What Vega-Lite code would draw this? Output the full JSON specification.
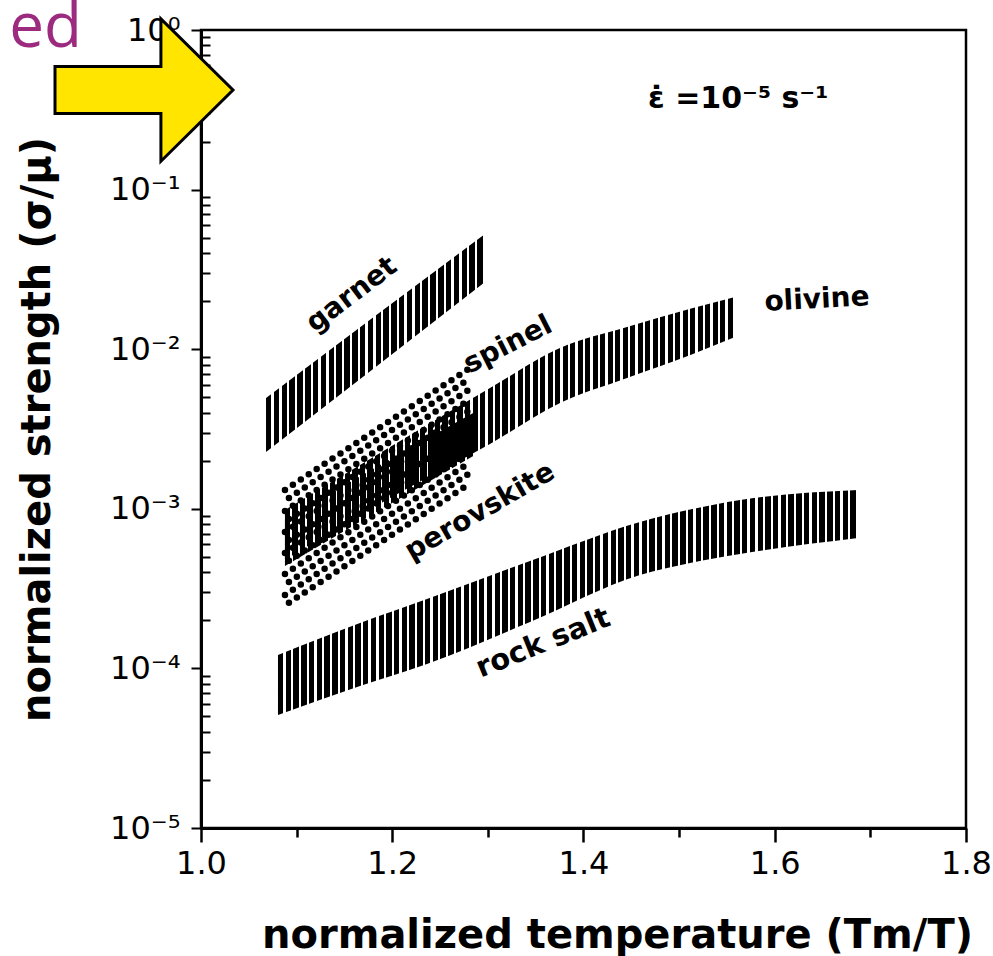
{
"$schema": "https://vega.github.io/schema/vega-lite/v6.json",
"width": 765,
"height": 798,
"autosize": {"type": "none"},
"padding": {"left": 201, "top": 30, "right": 27, "bottom": 128},
"background": "white",
"config": {"view": {"stroke": "black", "strokeWidth": 2.5}, "font": "DejaVu Sans"},
"datasets": {
"bands": [
{"m": "garnet", "x": 1.068, "y": 0.004945, "y2": 0.002269},
{"m": "garnet", "x": 1.182, "y": 0.016144, "y2": 0.00769},
{"m": "garnet", "x": 1.297, "y": 0.0527, "y2": 0.02637},
{"m": "olivine", "x": 1.0878, "y": 0.000983, "y2": 0.0004777},
{"m": "olivine", "x": 1.1977, "y": 0.002439, "y2": 0.001169},
{"m": "olivine", "x": 1.3022, "y": 0.005713, "y2": 0.002547},
{"m": "olivine", "x": 1.3754, "y": 0.010174, "y2": 0.004601},
{"m": "olivine", "x": 1.4455, "y": 0.01377, "y2": 0.006599},
{"m": "olivine", "x": 1.5145, "y": 0.01812, "y2": 0.00933},
{"m": "olivine", "x": 1.5585, "y": 0.02124, "y2": 0.01192},
{"m": "perovskite", "x": 1.0878, "y": 0.0008506, "y2": 0.0004382},
{"m": "perovskite", "x": 1.1872, "y": 0.001881, "y2": 0.000983},
{"m": "perovskite", "x": 1.2865, "y": 0.004041, "y2": 0.002173},
{"m": "rock salt", "x": 1.0805, "y": 0.0001213, "y2": 0.00005105},
{"m": "rock salt", "x": 1.1663, "y": 0.0001925, "y2": 0.00007757},
{"m": "rock salt", "x": 1.2363, "y": 0.0002721, "y2": 0.0001066},
{"m": "rock salt", "x": 1.3441, "y": 0.0004709, "y2": 0.0001953},
{"m": "rock salt", "x": 1.4591, "y": 0.0008267, "y2": 0.0003847},
{"m": "rock salt", "x": 1.5114, "y": 0.0009886, "y2": 0.0004575},
{"m": "rock salt", "x": 1.5637, "y": 0.001135, "y2": 0.000521},
{"m": "rock salt", "x": 1.6871, "y": 0.001312, "y2": 0.0006561}
],
"dots": [
{"row": 0, "p": 0, "x": 1.0878, "y": 0.0013115}, {"row": 0, "p": 0, "x": 1.2813, "y": 0.007633},
{"row": 1, "p": 1, "x": 1.0878, "y": 0.001127}, {"row": 1, "p": 1, "x": 1.2813, "y": 0.006561},
{"row": 2, "p": 0, "x": 1.0878, "y": 0.0009687}, {"row": 2, "p": 0, "x": 1.2813, "y": 0.005639},
{"row": 3, "p": 1, "x": 1.0878, "y": 0.0008326}, {"row": 3, "p": 1, "x": 1.2813, "y": 0.004847},
{"row": 4, "p": 0, "x": 1.0878, "y": 0.0007155}, {"row": 4, "p": 0, "x": 1.2813, "y": 0.004165},
{"row": 5, "p": 1, "x": 1.0878, "y": 0.0006149}, {"row": 5, "p": 1, "x": 1.2813, "y": 0.00358},
{"row": 6, "p": 0, "x": 1.0878, "y": 0.0005286}, {"row": 6, "p": 0, "x": 1.2813, "y": 0.003077},
{"row": 7, "p": 1, "x": 1.0878, "y": 0.0004543}, {"row": 7, "p": 1, "x": 1.2813, "y": 0.002645},
{"row": 8, "p": 0, "x": 1.0878, "y": 0.0003904}, {"row": 8, "p": 0, "x": 1.2813, "y": 0.002273},
{"row": 9, "p": 1, "x": 1.0878, "y": 0.0003355}, {"row": 9, "p": 1, "x": 1.2813, "y": 0.001953},
{"row": 10, "p": 0, "x": 1.0878, "y": 0.0002884}, {"row": 10, "p": 0, "x": 1.2813, "y": 0.001679},
{"row": 11, "p": 1, "x": 1.0878, "y": 0.0002479}, {"row": 11, "p": 1, "x": 1.2813, "y": 0.001443}
]
},
"encoding": {
"x": {"field": "x", "type": "quantitative",
"scale": {"domain": [1, 1.8], "nice": false, "zero": false},
"axis": {"title": "normalized temperature (Tm/T)", "values": [1, 1.1, 1.2, 1.3, 1.4, 1.5, 1.6, 1.7, 1.8],
"labelExpr": "abs(datum.value*5-round(datum.value*5))<0.01 ? format(datum.value, '.1f') : ''",
"tickSize": {"condition": {"test": "abs(datum.value*5-round(datum.value*5))<0.01", "value": 14}, "value": 9},
"tickWidth": 2.5, "tickColor": "black", "domainColor": "black", "domainWidth": 3,
"labelFont": "DejaVu Sans", "labelFontSize": 32, "labelColor": "black", "labelPadding": 6,
"labelOverlap": false, "labelFlush": false, "grid": false,
"titleFont": "DejaVu Sans", "titleFontSize": 40, "titleFontWeight": "bold", "titleColor": "black",
"titleX": 416, "titleY": 119, "titleBaseline": "alphabetic"}},
"y": {"field": "y", "type": "quantitative",
"scale": {"type": "log", "domain": [0.00001, 1], "nice": false},
"axis": {"title": "normalized strength (σ/μ)",
"labelExpr": "abs(log(datum.value)/LN10-round(log(datum.value)/LN10))<0.001 ? (datum.value>0.5 ? '10⁰' : datum.value>0.05 ? '10⁻¹' : datum.value>0.005 ? '10⁻²' : datum.value>0.0005 ? '10⁻³' : datum.value>0.00005 ? '10⁻⁴' : '10⁻⁵') : ''",
"tickSize": {"condition": {"test": "abs(log(datum.value)/LN10-round(log(datum.value)/LN10))<0.001", "value": 10}, "value": -9},
"tickWidth": 2, "tickColor": "black", "domainColor": "black", "domainWidth": 3,
"labelFont": "DejaVu Sans", "labelFontSize": 32, "labelColor": "black", "labelPadding": 11,
"labelOverlap": false, "labelFlush": false, "grid": false,
"titleFont": "DejaVu Sans", "titleFontSize": 40, "titleFontWeight": "bold", "titleColor": "black",
"titleX": -164, "titleY": 399, "titleBaseline": "middle"}}
},
"layer": [
{"data": {"name": "dots"}, "transform": [{"filter": "datum.p == 0"}],
"mark": {"type": "line", "stroke": "black", "strokeWidth": 6.5, "strokeCap": "round", "strokeDash": [0, 9.5]},
"encoding": {"detail": {"field": "row"}}},
{"data": {"name": "dots"}, "transform": [{"filter": "datum.p == 1"}],
"mark": {"type": "line", "stroke": "black", "strokeWidth": 6.5, "strokeCap": "round", "strokeDash": [0, 9.5], "strokeDashOffset": 4.75},
"encoding": {"detail": {"field": "row"}}},
{"data": {"name": "bands"}, "transform": [{"filter": "datum.m == 'perovskite'"}],
"mark": {"type": "area", "interpolate": "monotone", "fill": {"gradient": "linear", "x1": 0, "y1": 0, "x2": 1, "y2": 0, "stops": [
{"offset":0,"color":"#000"},{"offset":0.028,"color":"#000"},{"offset":0.028,"color":"transparent"},{"offset":0.04,"color":"transparent"},
{"offset":0.04,"color":"#000"},{"offset":0.068,"color":"#000"},{"offset":0.068,"color":"transparent"},{"offset":0.08,"color":"transparent"},
{"offset":0.08,"color":"#000"},{"offset":0.108,"color":"#000"},{"offset":0.108,"color":"transparent"},{"offset":0.12,"color":"transparent"},
{"offset":0.12,"color":"#000"},{"offset":0.148,"color":"#000"},{"offset":0.148,"color":"transparent"},{"offset":0.16,"color":"transparent"},
{"offset":0.16,"color":"#000"},{"offset":0.188,"color":"#000"},{"offset":0.188,"color":"transparent"},{"offset":0.2,"color":"transparent"},
{"offset":0.2,"color":"#000"},{"offset":0.228,"color":"#000"},{"offset":0.228,"color":"transparent"},{"offset":0.24,"color":"transparent"},
{"offset":0.24,"color":"#000"},{"offset":0.268,"color":"#000"},{"offset":0.268,"color":"transparent"},{"offset":0.28,"color":"transparent"},
{"offset":0.28,"color":"#000"},{"offset":0.308,"color":"#000"},{"offset":0.308,"color":"transparent"},{"offset":0.32,"color":"transparent"},
{"offset":0.32,"color":"#000"},{"offset":0.348,"color":"#000"},{"offset":0.348,"color":"transparent"},{"offset":0.36,"color":"transparent"},
{"offset":0.36,"color":"#000"},{"offset":0.388,"color":"#000"},{"offset":0.388,"color":"transparent"},{"offset":0.4,"color":"transparent"},
{"offset":0.4,"color":"#000"},{"offset":0.428,"color":"#000"},{"offset":0.428,"color":"transparent"},{"offset":0.44,"color":"transparent"},
{"offset":0.44,"color":"#000"},{"offset":0.468,"color":"#000"},{"offset":0.468,"color":"transparent"},{"offset":0.48,"color":"transparent"},
{"offset":0.48,"color":"#000"},{"offset":0.508,"color":"#000"},{"offset":0.508,"color":"transparent"},{"offset":0.52,"color":"transparent"},
{"offset":0.52,"color":"#000"},{"offset":0.548,"color":"#000"},{"offset":0.548,"color":"transparent"},{"offset":0.56,"color":"transparent"},
{"offset":0.56,"color":"#000"},{"offset":0.588,"color":"#000"},{"offset":0.588,"color":"transparent"},{"offset":0.6,"color":"transparent"},
{"offset":0.6,"color":"#000"},{"offset":0.628,"color":"#000"},{"offset":0.628,"color":"transparent"},{"offset":0.64,"color":"transparent"},
{"offset":0.64,"color":"#000"},{"offset":0.668,"color":"#000"},{"offset":0.668,"color":"transparent"},{"offset":0.68,"color":"transparent"},
{"offset":0.68,"color":"#000"},{"offset":0.708,"color":"#000"},{"offset":0.708,"color":"transparent"},{"offset":0.72,"color":"transparent"},
{"offset":0.72,"color":"#000"},{"offset":0.748,"color":"#000"},{"offset":0.748,"color":"transparent"},{"offset":0.76,"color":"transparent"},
{"offset":0.76,"color":"#000"},{"offset":0.788,"color":"#000"},{"offset":0.788,"color":"transparent"},{"offset":0.8,"color":"transparent"},
{"offset":0.8,"color":"#000"},{"offset":0.828,"color":"#000"},{"offset":0.828,"color":"transparent"},{"offset":0.84,"color":"transparent"},
{"offset":0.84,"color":"#000"},{"offset":0.868,"color":"#000"},{"offset":0.868,"color":"transparent"},{"offset":0.88,"color":"transparent"},
{"offset":0.88,"color":"#000"},{"offset":0.908,"color":"#000"},{"offset":0.908,"color":"transparent"},{"offset":0.92,"color":"transparent"},
{"offset":0.92,"color":"#000"},{"offset":0.948,"color":"#000"},{"offset":0.948,"color":"transparent"},{"offset":0.96,"color":"transparent"},
{"offset":0.96,"color":"#000"},{"offset":0.988,"color":"#000"},{"offset":0.988,"color":"transparent"},{"offset":1,"color":"transparent"}
]}},
"encoding": {"y2": {"field": "y2"}}},
{"data": {"name": "bands"}, "transform": [{"filter": "datum.m == 'olivine'"}],
"mark": {"type": "area", "interpolate": "monotone", "fill": {"gradient": "linear", "x1": 0, "y1": 0, "x2": 1, "y2": 0, "stops": [
{"offset":0,"color":"#000"},{"offset":0.0117,"color":"#000"},{"offset":0.0117,"color":"transparent"},{"offset":0.0167,"color":"transparent"},
{"offset":0.0167,"color":"#000"},{"offset":0.0283,"color":"#000"},{"offset":0.0283,"color":"transparent"},{"offset":0.0333,"color":"transparent"},
{"offset":0.0333,"color":"#000"},{"offset":0.045,"color":"#000"},{"offset":0.045,"color":"transparent"},{"offset":0.05,"color":"transparent"},
{"offset":0.05,"color":"#000"},{"offset":0.0617,"color":"#000"},{"offset":0.0617,"color":"transparent"},{"offset":0.0667,"color":"transparent"},
{"offset":0.0667,"color":"#000"},{"offset":0.0783,"color":"#000"},{"offset":0.0783,"color":"transparent"},{"offset":0.0833,"color":"transparent"},
{"offset":0.0833,"color":"#000"},{"offset":0.095,"color":"#000"},{"offset":0.095,"color":"transparent"},{"offset":0.1,"color":"transparent"},
{"offset":0.1,"color":"#000"},{"offset":0.1117,"color":"#000"},{"offset":0.1117,"color":"transparent"},{"offset":0.1167,"color":"transparent"},
{"offset":0.1167,"color":"#000"},{"offset":0.1283,"color":"#000"},{"offset":0.1283,"color":"transparent"},{"offset":0.1333,"color":"transparent"},
{"offset":0.1333,"color":"#000"},{"offset":0.145,"color":"#000"},{"offset":0.145,"color":"transparent"},{"offset":0.15,"color":"transparent"},
{"offset":0.15,"color":"#000"},{"offset":0.1617,"color":"#000"},{"offset":0.1617,"color":"transparent"},{"offset":0.1667,"color":"transparent"},
{"offset":0.1667,"color":"#000"},{"offset":0.1783,"color":"#000"},{"offset":0.1783,"color":"transparent"},{"offset":0.1833,"color":"transparent"},
{"offset":0.1833,"color":"#000"},{"offset":0.195,"color":"#000"},{"offset":0.195,"color":"transparent"},{"offset":0.2,"color":"transparent"},
{"offset":0.2,"color":"#000"},{"offset":0.2117,"color":"#000"},{"offset":0.2117,"color":"transparent"},{"offset":0.2167,"color":"transparent"},
{"offset":0.2167,"color":"#000"},{"offset":0.2283,"color":"#000"},{"offset":0.2283,"color":"transparent"},{"offset":0.2333,"color":"transparent"},
{"offset":0.2333,"color":"#000"},{"offset":0.245,"color":"#000"},{"offset":0.245,"color":"transparent"},{"offset":0.25,"color":"transparent"},
{"offset":0.25,"color":"#000"},{"offset":0.2617,"color":"#000"},{"offset":0.2617,"color":"transparent"},{"offset":0.2667,"color":"transparent"},
{"offset":0.2667,"color":"#000"},{"offset":0.2783,"color":"#000"},{"offset":0.2783,"color":"transparent"},{"offset":0.2833,"color":"transparent"},
{"offset":0.2833,"color":"#000"},{"offset":0.295,"color":"#000"},{"offset":0.295,"color":"transparent"},{"offset":0.3,"color":"transparent"},
{"offset":0.3,"color":"#000"},{"offset":0.3117,"color":"#000"},{"offset":0.3117,"color":"transparent"},{"offset":0.3167,"color":"transparent"},
{"offset":0.3167,"color":"#000"},{"offset":0.3283,"color":"#000"},{"offset":0.3283,"color":"transparent"},{"offset":0.3333,"color":"transparent"},
{"offset":0.3333,"color":"#000"},{"offset":0.345,"color":"#000"},{"offset":0.345,"color":"transparent"},{"offset":0.35,"color":"transparent"},
{"offset":0.35,"color":"#000"},{"offset":0.3617,"color":"#000"},{"offset":0.3617,"color":"transparent"},{"offset":0.3667,"color":"transparent"},
{"offset":0.3667,"color":"#000"},{"offset":0.3783,"color":"#000"},{"offset":0.3783,"color":"transparent"},{"offset":0.3833,"color":"transparent"},
{"offset":0.3833,"color":"#000"},{"offset":0.395,"color":"#000"},{"offset":0.395,"color":"transparent"},{"offset":0.4,"color":"transparent"},
{"offset":0.4,"color":"#000"},{"offset":0.4117,"color":"#000"},{"offset":0.4117,"color":"transparent"},{"offset":0.4167,"color":"transparent"},
{"offset":0.4167,"color":"#000"},{"offset":0.4283,"color":"#000"},{"offset":0.4283,"color":"transparent"},{"offset":0.4333,"color":"transparent"},
{"offset":0.4333,"color":"#000"},{"offset":0.445,"color":"#000"},{"offset":0.445,"color":"transparent"},{"offset":0.45,"color":"transparent"},
{"offset":0.45,"color":"#000"},{"offset":0.4617,"color":"#000"},{"offset":0.4617,"color":"transparent"},{"offset":0.4667,"color":"transparent"},
{"offset":0.4667,"color":"#000"},{"offset":0.4783,"color":"#000"},{"offset":0.4783,"color":"transparent"},{"offset":0.4833,"color":"transparent"},
{"offset":0.4833,"color":"#000"},{"offset":0.495,"color":"#000"},{"offset":0.495,"color":"transparent"},{"offset":0.5,"color":"transparent"},
{"offset":0.5,"color":"#000"},{"offset":0.5117,"color":"#000"},{"offset":0.5117,"color":"transparent"},{"offset":0.5167,"color":"transparent"},
{"offset":0.5167,"color":"#000"},{"offset":0.5283,"color":"#000"},{"offset":0.5283,"color":"transparent"},{"offset":0.5333,"color":"transparent"},
{"offset":0.5333,"color":"#000"},{"offset":0.545,"color":"#000"},{"offset":0.545,"color":"transparent"},{"offset":0.55,"color":"transparent"},
{"offset":0.55,"color":"#000"},{"offset":0.5617,"color":"#000"},{"offset":0.5617,"color":"transparent"},{"offset":0.5667,"color":"transparent"},
{"offset":0.5667,"color":"#000"},{"offset":0.5783,"color":"#000"},{"offset":0.5783,"color":"transparent"},{"offset":0.5833,"color":"transparent"},
{"offset":0.5833,"color":"#000"},{"offset":0.595,"color":"#000"},{"offset":0.595,"color":"transparent"},{"offset":0.6,"color":"transparent"},
{"offset":0.6,"color":"#000"},{"offset":0.6117,"color":"#000"},{"offset":0.6117,"color":"transparent"},{"offset":0.6167,"color":"transparent"},
{"offset":0.6167,"color":"#000"},{"offset":0.6283,"color":"#000"},{"offset":0.6283,"color":"transparent"},{"offset":0.6333,"color":"transparent"},
{"offset":0.6333,"color":"#000"},{"offset":0.645,"color":"#000"},{"offset":0.645,"color":"transparent"},{"offset":0.65,"color":"transparent"},
{"offset":0.65,"color":"#000"},{"offset":0.6617,"color":"#000"},{"offset":0.6617,"color":"transparent"},{"offset":0.6667,"color":"transparent"},
{"offset":0.6667,"color":"#000"},{"offset":0.6783,"color":"#000"},{"offset":0.6783,"color":"transparent"},{"offset":0.6833,"color":"transparent"},
{"offset":0.6833,"color":"#000"},{"offset":0.695,"color":"#000"},{"offset":0.695,"color":"transparent"},{"offset":0.7,"color":"transparent"},
{"offset":0.7,"color":"#000"},{"offset":0.7117,"color":"#000"},{"offset":0.7117,"color":"transparent"},{"offset":0.7167,"color":"transparent"},
{"offset":0.7167,"color":"#000"},{"offset":0.7283,"color":"#000"},{"offset":0.7283,"color":"transparent"},{"offset":0.7333,"color":"transparent"},
{"offset":0.7333,"color":"#000"},{"offset":0.745,"color":"#000"},{"offset":0.745,"color":"transparent"},{"offset":0.75,"color":"transparent"},
{"offset":0.75,"color":"#000"},{"offset":0.7617,"color":"#000"},{"offset":0.7617,"color":"transparent"},{"offset":0.7667,"color":"transparent"},
{"offset":0.7667,"color":"#000"},{"offset":0.7783,"color":"#000"},{"offset":0.7783,"color":"transparent"},{"offset":0.7833,"color":"transparent"},
{"offset":0.7833,"color":"#000"},{"offset":0.795,"color":"#000"},{"offset":0.795,"color":"transparent"},{"offset":0.8,"color":"transparent"},
{"offset":0.8,"color":"#000"},{"offset":0.8117,"color":"#000"},{"offset":0.8117,"color":"transparent"},{"offset":0.8167,"color":"transparent"},
{"offset":0.8167,"color":"#000"},{"offset":0.8283,"color":"#000"},{"offset":0.8283,"color":"transparent"},{"offset":0.8333,"color":"transparent"},
{"offset":0.8333,"color":"#000"},{"offset":0.845,"color":"#000"},{"offset":0.845,"color":"transparent"},{"offset":0.85,"color":"transparent"},
{"offset":0.85,"color":"#000"},{"offset":0.8617,"color":"#000"},{"offset":0.8617,"color":"transparent"},{"offset":0.8667,"color":"transparent"},
{"offset":0.8667,"color":"#000"},{"offset":0.8783,"color":"#000"},{"offset":0.8783,"color":"transparent"},{"offset":0.8833,"color":"transparent"},
{"offset":0.8833,"color":"#000"},{"offset":0.895,"color":"#000"},{"offset":0.895,"color":"transparent"},{"offset":0.9,"color":"transparent"},
{"offset":0.9,"color":"#000"},{"offset":0.9117,"color":"#000"},{"offset":0.9117,"color":"transparent"},{"offset":0.9167,"color":"transparent"},
{"offset":0.9167,"color":"#000"},{"offset":0.9283,"color":"#000"},{"offset":0.9283,"color":"transparent"},{"offset":0.9333,"color":"transparent"},
{"offset":0.9333,"color":"#000"},{"offset":0.945,"color":"#000"},{"offset":0.945,"color":"transparent"},{"offset":0.95,"color":"transparent"},
{"offset":0.95,"color":"#000"},{"offset":0.9617,"color":"#000"},{"offset":0.9617,"color":"transparent"},{"offset":0.9667,"color":"transparent"},
{"offset":0.9667,"color":"#000"},{"offset":0.9783,"color":"#000"},{"offset":0.9783,"color":"transparent"},{"offset":0.9833,"color":"transparent"},
{"offset":0.9833,"color":"#000"},{"offset":0.995,"color":"#000"},{"offset":0.995,"color":"transparent"},{"offset":1,"color":"transparent"}
]}},
"encoding": {"y2": {"field": "y2"}}},
{"data": {"name": "bands"}, "transform": [{"filter": "datum.m == 'garnet'"}],
"mark": {"type": "area", "interpolate": "monotone", "fill": {"gradient": "linear", "x1": 0, "y1": 0, "x2": 1, "y2": 0, "stops": [
{"offset":0,"color":"#000"},{"offset":0.025,"color":"#000"},{"offset":0.025,"color":"transparent"},{"offset":0.0357,"color":"transparent"},
{"offset":0.0357,"color":"#000"},{"offset":0.0607,"color":"#000"},{"offset":0.0607,"color":"transparent"},{"offset":0.0714,"color":"transparent"},
{"offset":0.0714,"color":"#000"},{"offset":0.0964,"color":"#000"},{"offset":0.0964,"color":"transparent"},{"offset":0.1071,"color":"transparent"},
{"offset":0.1071,"color":"#000"},{"offset":0.1321,"color":"#000"},{"offset":0.1321,"color":"transparent"},{"offset":0.1429,"color":"transparent"},
{"offset":0.1429,"color":"#000"},{"offset":0.1679,"color":"#000"},{"offset":0.1679,"color":"transparent"},{"offset":0.1786,"color":"transparent"},
{"offset":0.1786,"color":"#000"},{"offset":0.2036,"color":"#000"},{"offset":0.2036,"color":"transparent"},{"offset":0.2143,"color":"transparent"},
{"offset":0.2143,"color":"#000"},{"offset":0.2393,"color":"#000"},{"offset":0.2393,"color":"transparent"},{"offset":0.25,"color":"transparent"},
{"offset":0.25,"color":"#000"},{"offset":0.275,"color":"#000"},{"offset":0.275,"color":"transparent"},{"offset":0.2857,"color":"transparent"},
{"offset":0.2857,"color":"#000"},{"offset":0.3107,"color":"#000"},{"offset":0.3107,"color":"transparent"},{"offset":0.3214,"color":"transparent"},
{"offset":0.3214,"color":"#000"},{"offset":0.3464,"color":"#000"},{"offset":0.3464,"color":"transparent"},{"offset":0.3571,"color":"transparent"},
{"offset":0.3571,"color":"#000"},{"offset":0.3821,"color":"#000"},{"offset":0.3821,"color":"transparent"},{"offset":0.3929,"color":"transparent"},
{"offset":0.3929,"color":"#000"},{"offset":0.4179,"color":"#000"},{"offset":0.4179,"color":"transparent"},{"offset":0.4286,"color":"transparent"},
{"offset":0.4286,"color":"#000"},{"offset":0.4536,"color":"#000"},{"offset":0.4536,"color":"transparent"},{"offset":0.4643,"color":"transparent"},
{"offset":0.4643,"color":"#000"},{"offset":0.4893,"color":"#000"},{"offset":0.4893,"color":"transparent"},{"offset":0.5,"color":"transparent"},
{"offset":0.5,"color":"#000"},{"offset":0.525,"color":"#000"},{"offset":0.525,"color":"transparent"},{"offset":0.5357,"color":"transparent"},
{"offset":0.5357,"color":"#000"},{"offset":0.5607,"color":"#000"},{"offset":0.5607,"color":"transparent"},{"offset":0.5714,"color":"transparent"},
{"offset":0.5714,"color":"#000"},{"offset":0.5964,"color":"#000"},{"offset":0.5964,"color":"transparent"},{"offset":0.6071,"color":"transparent"},
{"offset":0.6071,"color":"#000"},{"offset":0.6321,"color":"#000"},{"offset":0.6321,"color":"transparent"},{"offset":0.6429,"color":"transparent"},
{"offset":0.6429,"color":"#000"},{"offset":0.6679,"color":"#000"},{"offset":0.6679,"color":"transparent"},{"offset":0.6786,"color":"transparent"},
{"offset":0.6786,"color":"#000"},{"offset":0.7036,"color":"#000"},{"offset":0.7036,"color":"transparent"},{"offset":0.7143,"color":"transparent"},
{"offset":0.7143,"color":"#000"},{"offset":0.7393,"color":"#000"},{"offset":0.7393,"color":"transparent"},{"offset":0.75,"color":"transparent"},
{"offset":0.75,"color":"#000"},{"offset":0.775,"color":"#000"},{"offset":0.775,"color":"transparent"},{"offset":0.7857,"color":"transparent"},
{"offset":0.7857,"color":"#000"},{"offset":0.8107,"color":"#000"},{"offset":0.8107,"color":"transparent"},{"offset":0.8214,"color":"transparent"},
{"offset":0.8214,"color":"#000"},{"offset":0.8464,"color":"#000"},{"offset":0.8464,"color":"transparent"},{"offset":0.8571,"color":"transparent"},
{"offset":0.8571,"color":"#000"},{"offset":0.8821,"color":"#000"},{"offset":0.8821,"color":"transparent"},{"offset":0.8929,"color":"transparent"},
{"offset":0.8929,"color":"#000"},{"offset":0.9179,"color":"#000"},{"offset":0.9179,"color":"transparent"},{"offset":0.9286,"color":"transparent"},
{"offset":0.9286,"color":"#000"},{"offset":0.9536,"color":"#000"},{"offset":0.9536,"color":"transparent"},{"offset":0.9643,"color":"transparent"},
{"offset":0.9643,"color":"#000"},{"offset":0.9893,"color":"#000"},{"offset":0.9893,"color":"transparent"},{"offset":1,"color":"transparent"}
]}},
"encoding": {"y2": {"field": "y2"}}},
{"data": {"name": "bands"}, "transform": [{"filter": "datum.m == 'rock salt'"}],
"mark": {"type": "area", "interpolate": "monotone", "fill": {"gradient": "linear", "x1": 0, "y1": 0, "x2": 1, "y2": 0, "stops": [
{"offset":0,"color":"#000"},{"offset":0.0093,"color":"#000"},{"offset":0.0093,"color":"transparent"},{"offset":0.0133,"color":"transparent"},
{"offset":0.0133,"color":"#000"},{"offset":0.0227,"color":"#000"},{"offset":0.0227,"color":"transparent"},{"offset":0.0267,"color":"transparent"},
{"offset":0.0267,"color":"#000"},{"offset":0.036,"color":"#000"},{"offset":0.036,"color":"transparent"},{"offset":0.04,"color":"transparent"},
{"offset":0.04,"color":"#000"},{"offset":0.0493,"color":"#000"},{"offset":0.0493,"color":"transparent"},{"offset":0.0533,"color":"transparent"},
{"offset":0.0533,"color":"#000"},{"offset":0.0627,"color":"#000"},{"offset":0.0627,"color":"transparent"},{"offset":0.0667,"color":"transparent"},
{"offset":0.0667,"color":"#000"},{"offset":0.076,"color":"#000"},{"offset":0.076,"color":"transparent"},{"offset":0.08,"color":"transparent"},
{"offset":0.08,"color":"#000"},{"offset":0.0893,"color":"#000"},{"offset":0.0893,"color":"transparent"},{"offset":0.0933,"color":"transparent"},
{"offset":0.0933,"color":"#000"},{"offset":0.1027,"color":"#000"},{"offset":0.1027,"color":"transparent"},{"offset":0.1067,"color":"transparent"},
{"offset":0.1067,"color":"#000"},{"offset":0.116,"color":"#000"},{"offset":0.116,"color":"transparent"},{"offset":0.12,"color":"transparent"},
{"offset":0.12,"color":"#000"},{"offset":0.1293,"color":"#000"},{"offset":0.1293,"color":"transparent"},{"offset":0.1333,"color":"transparent"},
{"offset":0.1333,"color":"#000"},{"offset":0.1427,"color":"#000"},{"offset":0.1427,"color":"transparent"},{"offset":0.1467,"color":"transparent"},
{"offset":0.1467,"color":"#000"},{"offset":0.156,"color":"#000"},{"offset":0.156,"color":"transparent"},{"offset":0.16,"color":"transparent"},
{"offset":0.16,"color":"#000"},{"offset":0.1693,"color":"#000"},{"offset":0.1693,"color":"transparent"},{"offset":0.1733,"color":"transparent"},
{"offset":0.1733,"color":"#000"},{"offset":0.1827,"color":"#000"},{"offset":0.1827,"color":"transparent"},{"offset":0.1867,"color":"transparent"},
{"offset":0.1867,"color":"#000"},{"offset":0.196,"color":"#000"},{"offset":0.196,"color":"transparent"},{"offset":0.2,"color":"transparent"},
{"offset":0.2,"color":"#000"},{"offset":0.2093,"color":"#000"},{"offset":0.2093,"color":"transparent"},{"offset":0.2133,"color":"transparent"},
{"offset":0.2133,"color":"#000"},{"offset":0.2227,"color":"#000"},{"offset":0.2227,"color":"transparent"},{"offset":0.2267,"color":"transparent"},
{"offset":0.2267,"color":"#000"},{"offset":0.236,"color":"#000"},{"offset":0.236,"color":"transparent"},{"offset":0.24,"color":"transparent"},
{"offset":0.24,"color":"#000"},{"offset":0.2493,"color":"#000"},{"offset":0.2493,"color":"transparent"},{"offset":0.2533,"color":"transparent"},
{"offset":0.2533,"color":"#000"},{"offset":0.2627,"color":"#000"},{"offset":0.2627,"color":"transparent"},{"offset":0.2667,"color":"transparent"},
{"offset":0.2667,"color":"#000"},{"offset":0.276,"color":"#000"},{"offset":0.276,"color":"transparent"},{"offset":0.28,"color":"transparent"},
{"offset":0.28,"color":"#000"},{"offset":0.2893,"color":"#000"},{"offset":0.2893,"color":"transparent"},{"offset":0.2933,"color":"transparent"},
{"offset":0.2933,"color":"#000"},{"offset":0.3027,"color":"#000"},{"offset":0.3027,"color":"transparent"},{"offset":0.3067,"color":"transparent"},
{"offset":0.3067,"color":"#000"},{"offset":0.316,"color":"#000"},{"offset":0.316,"color":"transparent"},{"offset":0.32,"color":"transparent"},
{"offset":0.32,"color":"#000"},{"offset":0.3293,"color":"#000"},{"offset":0.3293,"color":"transparent"},{"offset":0.3333,"color":"transparent"},
{"offset":0.3333,"color":"#000"},{"offset":0.3427,"color":"#000"},{"offset":0.3427,"color":"transparent"},{"offset":0.3467,"color":"transparent"},
{"offset":0.3467,"color":"#000"},{"offset":0.356,"color":"#000"},{"offset":0.356,"color":"transparent"},{"offset":0.36,"color":"transparent"},
{"offset":0.36,"color":"#000"},{"offset":0.3693,"color":"#000"},{"offset":0.3693,"color":"transparent"},{"offset":0.3733,"color":"transparent"},
{"offset":0.3733,"color":"#000"},{"offset":0.3827,"color":"#000"},{"offset":0.3827,"color":"transparent"},{"offset":0.3867,"color":"transparent"},
{"offset":0.3867,"color":"#000"},{"offset":0.396,"color":"#000"},{"offset":0.396,"color":"transparent"},{"offset":0.4,"color":"transparent"},
{"offset":0.4,"color":"#000"},{"offset":0.4093,"color":"#000"},{"offset":0.4093,"color":"transparent"},{"offset":0.4133,"color":"transparent"},
{"offset":0.4133,"color":"#000"},{"offset":0.4227,"color":"#000"},{"offset":0.4227,"color":"transparent"},{"offset":0.4267,"color":"transparent"},
{"offset":0.4267,"color":"#000"},{"offset":0.436,"color":"#000"},{"offset":0.436,"color":"transparent"},{"offset":0.44,"color":"transparent"},
{"offset":0.44,"color":"#000"},{"offset":0.4493,"color":"#000"},{"offset":0.4493,"color":"transparent"},{"offset":0.4533,"color":"transparent"},
{"offset":0.4533,"color":"#000"},{"offset":0.4627,"color":"#000"},{"offset":0.4627,"color":"transparent"},{"offset":0.4667,"color":"transparent"},
{"offset":0.4667,"color":"#000"},{"offset":0.476,"color":"#000"},{"offset":0.476,"color":"transparent"},{"offset":0.48,"color":"transparent"},
{"offset":0.48,"color":"#000"},{"offset":0.4893,"color":"#000"},{"offset":0.4893,"color":"transparent"},{"offset":0.4933,"color":"transparent"},
{"offset":0.4933,"color":"#000"},{"offset":0.5027,"color":"#000"},{"offset":0.5027,"color":"transparent"},{"offset":0.5067,"color":"transparent"},
{"offset":0.5067,"color":"#000"},{"offset":0.516,"color":"#000"},{"offset":0.516,"color":"transparent"},{"offset":0.52,"color":"transparent"},
{"offset":0.52,"color":"#000"},{"offset":0.5293,"color":"#000"},{"offset":0.5293,"color":"transparent"},{"offset":0.5333,"color":"transparent"},
{"offset":0.5333,"color":"#000"},{"offset":0.5427,"color":"#000"},{"offset":0.5427,"color":"transparent"},{"offset":0.5467,"color":"transparent"},
{"offset":0.5467,"color":"#000"},{"offset":0.556,"color":"#000"},{"offset":0.556,"color":"transparent"},{"offset":0.56,"color":"transparent"},
{"offset":0.56,"color":"#000"},{"offset":0.5693,"color":"#000"},{"offset":0.5693,"color":"transparent"},{"offset":0.5733,"color":"transparent"},
{"offset":0.5733,"color":"#000"},{"offset":0.5827,"color":"#000"},{"offset":0.5827,"color":"transparent"},{"offset":0.5867,"color":"transparent"},
{"offset":0.5867,"color":"#000"},{"offset":0.596,"color":"#000"},{"offset":0.596,"color":"transparent"},{"offset":0.6,"color":"transparent"},
{"offset":0.6,"color":"#000"},{"offset":0.6093,"color":"#000"},{"offset":0.6093,"color":"transparent"},{"offset":0.6133,"color":"transparent"},
{"offset":0.6133,"color":"#000"},{"offset":0.6227,"color":"#000"},{"offset":0.6227,"color":"transparent"},{"offset":0.6267,"color":"transparent"},
{"offset":0.6267,"color":"#000"},{"offset":0.636,"color":"#000"},{"offset":0.636,"color":"transparent"},{"offset":0.64,"color":"transparent"},
{"offset":0.64,"color":"#000"},{"offset":0.6493,"color":"#000"},{"offset":0.6493,"color":"transparent"},{"offset":0.6533,"color":"transparent"},
{"offset":0.6533,"color":"#000"},{"offset":0.6627,"color":"#000"},{"offset":0.6627,"color":"transparent"},{"offset":0.6667,"color":"transparent"},
{"offset":0.6667,"color":"#000"},{"offset":0.676,"color":"#000"},{"offset":0.676,"color":"transparent"},{"offset":0.68,"color":"transparent"},
{"offset":0.68,"color":"#000"},{"offset":0.6893,"color":"#000"},{"offset":0.6893,"color":"transparent"},{"offset":0.6933,"color":"transparent"},
{"offset":0.6933,"color":"#000"},{"offset":0.7027,"color":"#000"},{"offset":0.7027,"color":"transparent"},{"offset":0.7067,"color":"transparent"},
{"offset":0.7067,"color":"#000"},{"offset":0.716,"color":"#000"},{"offset":0.716,"color":"transparent"},{"offset":0.72,"color":"transparent"},
{"offset":0.72,"color":"#000"},{"offset":0.7293,"color":"#000"},{"offset":0.7293,"color":"transparent"},{"offset":0.7333,"color":"transparent"},
{"offset":0.7333,"color":"#000"},{"offset":0.7427,"color":"#000"},{"offset":0.7427,"color":"transparent"},{"offset":0.7467,"color":"transparent"},
{"offset":0.7467,"color":"#000"},{"offset":0.756,"color":"#000"},{"offset":0.756,"color":"transparent"},{"offset":0.76,"color":"transparent"},
{"offset":0.76,"color":"#000"},{"offset":0.7693,"color":"#000"},{"offset":0.7693,"color":"transparent"},{"offset":0.7733,"color":"transparent"},
{"offset":0.7733,"color":"#000"},{"offset":0.7827,"color":"#000"},{"offset":0.7827,"color":"transparent"},{"offset":0.7867,"color":"transparent"},
{"offset":0.7867,"color":"#000"},{"offset":0.796,"color":"#000"},{"offset":0.796,"color":"transparent"},{"offset":0.8,"color":"transparent"},
{"offset":0.8,"color":"#000"},{"offset":0.8093,"color":"#000"},{"offset":0.8093,"color":"transparent"},{"offset":0.8133,"color":"transparent"},
{"offset":0.8133,"color":"#000"},{"offset":0.8227,"color":"#000"},{"offset":0.8227,"color":"transparent"},{"offset":0.8267,"color":"transparent"},
{"offset":0.8267,"color":"#000"},{"offset":0.836,"color":"#000"},{"offset":0.836,"color":"transparent"},{"offset":0.84,"color":"transparent"},
{"offset":0.84,"color":"#000"},{"offset":0.8493,"color":"#000"},{"offset":0.8493,"color":"transparent"},{"offset":0.8533,"color":"transparent"},
{"offset":0.8533,"color":"#000"},{"offset":0.8627,"color":"#000"},{"offset":0.8627,"color":"transparent"},{"offset":0.8667,"color":"transparent"},
{"offset":0.8667,"color":"#000"},{"offset":0.876,"color":"#000"},{"offset":0.876,"color":"transparent"},{"offset":0.88,"color":"transparent"},
{"offset":0.88,"color":"#000"},{"offset":0.8893,"color":"#000"},{"offset":0.8893,"color":"transparent"},{"offset":0.8933,"color":"transparent"},
{"offset":0.8933,"color":"#000"},{"offset":0.9027,"color":"#000"},{"offset":0.9027,"color":"transparent"},{"offset":0.9067,"color":"transparent"},
{"offset":0.9067,"color":"#000"},{"offset":0.916,"color":"#000"},{"offset":0.916,"color":"transparent"},{"offset":0.92,"color":"transparent"},
{"offset":0.92,"color":"#000"},{"offset":0.9293,"color":"#000"},{"offset":0.9293,"color":"transparent"},{"offset":0.9333,"color":"transparent"},
{"offset":0.9333,"color":"#000"},{"offset":0.9427,"color":"#000"},{"offset":0.9427,"color":"transparent"},{"offset":0.9467,"color":"transparent"},
{"offset":0.9467,"color":"#000"},{"offset":0.956,"color":"#000"},{"offset":0.956,"color":"transparent"},{"offset":0.96,"color":"transparent"},
{"offset":0.96,"color":"#000"},{"offset":0.9693,"color":"#000"},{"offset":0.9693,"color":"transparent"},{"offset":0.9733,"color":"transparent"},
{"offset":0.9733,"color":"#000"},{"offset":0.9827,"color":"#000"},{"offset":0.9827,"color":"transparent"},{"offset":0.9867,"color":"transparent"},
{"offset":0.9867,"color":"#000"},{"offset":0.996,"color":"#000"},{"offset":0.996,"color":"transparent"},{"offset":1,"color":"transparent"}
]}},
"encoding": {"y2": {"field": "y2"}}},
{"data": {"values": [{"label": "garnet", "x": 1.1579, "y": 0.02186}]},
"mark": {"type": "text", "angle": 323, "font": "DejaVu Sans", "fontSize": 28, "fontWeight": "bold", "color": "black", "align": "center", "baseline": "middle"},
"encoding": {"text": {"field": "label"}}},
{"data": {"values": [{"label": "spinel", "x": 1.3211, "y": 0.01062}]},
"mark": {"type": "text", "angle": 333, "font": "DejaVu Sans", "fontSize": 28, "fontWeight": "bold", "color": "black", "align": "center", "baseline": "middle"},
"encoding": {"text": {"field": "label"}}},
{"data": {"values": [{"label": "olivine", "x": 1.6442, "y": 0.02033}]},
"mark": {"type": "text", "angle": 357, "font": "DejaVu Sans", "fontSize": 28, "fontWeight": "bold", "color": "black", "align": "center", "baseline": "middle"},
"encoding": {"text": {"field": "label"}}},
{"data": {"values": [{"label": "perovskite", "x": 1.2918, "y": 0.0009548}]},
"mark": {"type": "text", "angle": 330, "font": "DejaVu Sans", "fontSize": 28, "fontWeight": "bold", "color": "black", "align": "center", "baseline": "middle"},
"encoding": {"text": {"field": "label"}}},
{"data": {"values": [{"label": "rock salt", "x": 1.3577, "y": 0.0001442}]},
"mark": {"type": "text", "angle": 338, "font": "DejaVu Sans", "fontSize": 29, "fontWeight": "bold", "color": "black", "align": "center", "baseline": "middle"},
"encoding": {"text": {"field": "label"}}},
{"data": {"values": [{"label": "ε̇ =10⁻⁵ s⁻¹", "x": 1.4675, "y": 0.3246}]},
"mark": {"type": "text", "font": "DejaVu Sans", "fontSize": 30, "fontWeight": "bold", "color": "black", "align": "left", "baseline": "alphabetic"},
"encoding": {"text": {"field": "label"}}},
{"data": {"values": [{"label": "ed", "x": 0.8756, "y": 0.7825}]},
"mark": {"type": "text", "font": "Open Sans", "fontSize": 62, "color": "#9C2A7E", "align": "right", "baseline": "alphabetic"},
"encoding": {"text": {"field": "label"}}},
{"data": {"values": [{"label": "arrow", "x": 0.9404, "y": 0.4207}]},
"mark": {"type": "point", "shape": "M -1 -0.264 L 0.19 -0.264 L 0.19 -0.8 L 1 0 L 0.19 0.8 L 0.19 0.264 L -1 0.264 Z", "size": 31684, "filled": true, "fill": "#FFE500", "stroke": "black", "strokeWidth": 3, "opacity": 1, "fillOpacity": 1, "strokeOpacity": 1},
"encoding": {}}
]
}
